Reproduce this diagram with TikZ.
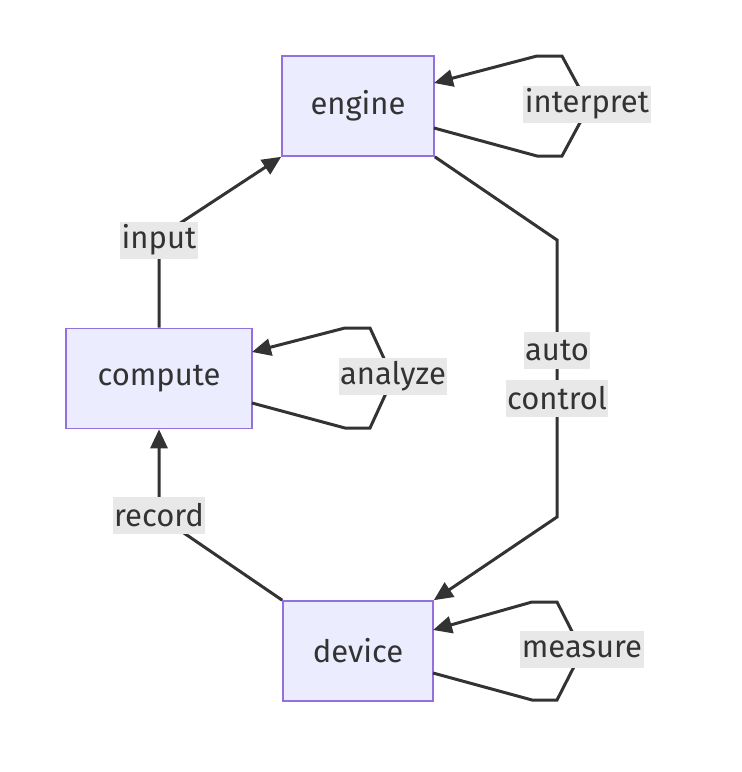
\documentclass[tikz,border=0pt]{standalone}
\usepackage{fontspec}
\setmainfont{Fira Sans}
\usetikzlibrary{arrows.meta}
\definecolor{nodefill}{HTML}{ECECFF}
\definecolor{nodeborder}{HTML}{9370DB}
\definecolor{linecol}{HTML}{333333}
\definecolor{lblbg}{HTML}{E8E8E8}
\tikzset{
  box/.style={draw=nodeborder, fill=nodefill, line width=1.6pt, minimum height=100pt, text=linecol, font=\fontsize{31}{37}\selectfont},
  edge/.style={draw=linecol, line width=3pt, -{Triangle[length=19pt,width=17pt]}},
  lbl/.style={fill=lblbg, text=linecol, inner sep=1.5pt, font=\fontsize{31}{37}\selectfont, minimum height=37pt, anchor=center},
}
\begin{document}
\begin{tikzpicture}[x=1pt,y=-1pt]
\useasboundingbox (0,0) rectangle (742,772);
% nodes
\node[box, minimum width=152pt] (engine) at (358,106) {engine};
\node[box, minimum width=186pt] (compute) at (159,378.5) {compute};
\node[box, minimum width=150pt] (device) at (358,651) {device};
% bend points
\coordinate (inB) at (159,237);
\coordinate (recB) at (159,516);
\coordinate (acA) at (557,240);
\coordinate (acB) at (557,517);
% edges
\draw[edge] (compute.north) -- (inB) -- (engine.south west);
\draw[edge] (device.north west) -- (recB) -- (compute.south);
\draw[edge] (engine.south east) -- (acA) -- (acB) -- (device.north east);
% self loops
\coordinate (e1) at (434,128);
\coordinate (e2) at (537,156);
\coordinate (e3) at (562,156);
\coordinate (e4) at (589,106);
\coordinate (e5) at (562,56);
\coordinate (e6) at (537,56);
\coordinate (e7) at (434,83);
\draw[edge] (e1) -- (e2) -- (e3) -- (e4) -- (e5) -- (e6) -- (e7);
\coordinate (c1) at (252,403);
\coordinate (c2) at (345,428);
\coordinate (c3) at (370,428);
\coordinate (c4) at (393,378);
\coordinate (c5) at (370,328);
\coordinate (c6) at (345,328);
\coordinate (c7) at (252,352);
\draw[edge] (c1) -- (c2) -- (c3) -- (c4) -- (c5) -- (c6) -- (c7);
\coordinate (d1) at (433,673);
\coordinate (d2) at (532,700);
\coordinate (d3) at (557,700);
\coordinate (d4) at (582,651);
\coordinate (d5) at (557,602);
\coordinate (d6) at (532,602);
\coordinate (d7) at (433,630);
\draw[edge] (d1) -- (d2) -- (d3) -- (d4) -- (d5) -- (d6) -- (d7);
% labels
\node[lbl] (linput) at (159,240) {input};
\node[lbl] (lrecord) at (159,515) {record};
\node[lbl] (lauto) at (557,350) {auto};
\node[lbl] (lcontrol) at (557,398) {control};
\node[lbl] (linterp) at (587,104) {interpret};
\node[lbl] (lanalyze) at (393,376) {analyze};
\node[lbl] (lmeasure) at (582,649) {measure};
\end{tikzpicture}
\end{document}
